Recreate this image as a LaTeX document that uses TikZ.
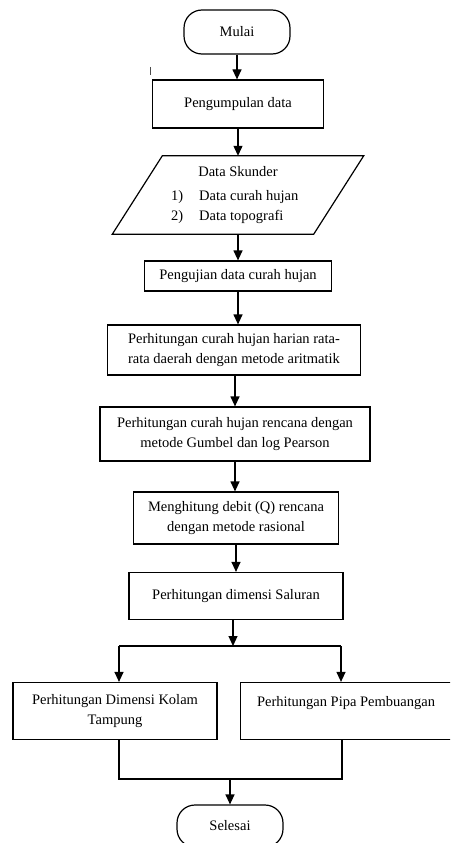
\documentclass[tikz,border=0pt]{standalone}
\usepackage{fontspec}
\setmainfont{Liberation Serif}
\usetikzlibrary{arrows.meta}

\begin{document}
\begin{tikzpicture}[x=1pt, y=-1pt,
	txt/.style={font=\fontsize{14.5}{19.5}\selectfont, inner sep=0pt},
	box/.style={draw, line width=1.2pt, inner sep=2pt, align=center, font=\fontsize{14.5}{19.5}\selectfont},
	term/.style={box, rounded corners=18pt},
	ln/.style={line width=1.2pt},
	arr/.style={line width=1.2pt, -{Triangle[width=9pt,length=10pt]}}]
\useasboundingbox (0,0) rectangle (450,843);
\clip (0,0) rectangle (450,843);


\node[term, minimum width=106pt, minimum height=44pt] (mulai) at (237,32) {Mulai};

\node[box, minimum width=171pt, minimum height=48pt] (kumpul) at (238,104) {Pengumpulan data};

%\node[txt] at (150,71) {'};
\draw[line width=1pt, black!70] (150,67) -- (150,75);


% data sekunder (jajaran genjang)
\node[minimum width=251pt, minimum height=78pt, inner sep=0pt] (data) at (238,195) {};
\draw[ln] ([xshift=50pt]data.north west) -- (data.north east) -- ([xshift=-50pt]data.south east) -- (data.south west) -- cycle;

\node[txt] (dtitle) at (238,172) {Data Skunder};
\node[txt, anchor=base west] (d1no) at (171,200) {1)};
\node[txt, anchor=base west] (d1) at (199,200) {Data curah hujan};
\node[txt, anchor=base west] (d2no) at (171,220) {2)};
\node[txt, anchor=base west] (d2) at (199,220) {Data topografi};


\node[box, minimum width=187pt, minimum height=30pt] (uji) at (238,276) {Pengujian data curah hujan};

\node[box, minimum width=253pt, minimum height=50pt] (harian) at (234,350) {Perhitungan curah hujan harian rata-\\rata daerah dengan metode aritmatik};

\node[box, minimum width=270pt, minimum height=54pt] (rencana) at (235,434) {Perhitungan curah hujan rencana dengan\\metode Gumbel dan log Pearson};

\node[box, minimum width=205pt, minimum height=52pt] (debit) at (236,518) {Menghitung debit (Q) rencana\\dengan metode rasional};

\node[box, minimum width=214pt, minimum height=47pt] (saluran) at (236,596) {Perhitungan dimensi Saluran};

\node[box, minimum width=204pt, minimum height=57pt] (kolam) at (115,711) {Perhitungan Dimensi Kolam\\Tampung};
\node[box, minimum width=211pt, minimum height=57pt] (pipa) at (346,711) {Perhitungan Pipa Pembuangan\\ \mbox{}};

\node[term, minimum width=106pt, minimum height=42pt] (selesai) at (230,826) {Selesai};


\draw[arr] (mulai.south) -- (mulai.south |- kumpul.north);
\draw[arr] (kumpul.south) -- (kumpul.south |- data.north);
\draw[arr] (data.south) -- (data.south |- uji.north);
\draw[arr] (uji.south) -- (uji.south |- harian.north);
\draw[arr] (rencana.north |- harian.south) -- (rencana.north);
\draw[arr] (rencana.south) -- (rencana.south |- debit.north);
\draw[arr] (debit.south) -- (debit.south |- saluran.north);

% cabang ke kolam dan pipa
\coordinate (split) at (233,646);
\coordinate (splitl) at (119,646);
\coordinate (splitr) at (341,646);
\draw[arr] (saluran.south -| split) -- (split);
\draw[ln] (splitl) -- (splitr);
\draw[arr] (splitl) -- (splitl |- kolam.north);
\draw[arr] (splitr) -- (splitr |- pipa.north);

\coordinate (joinl) at (119,779);
\coordinate (joinr) at (342,779);
\coordinate (join) at (230,779);
\draw[ln] (kolam.south -| joinl) -- (joinl) -- (joinr) -- (pipa.south -| joinr);
\draw[arr] (join) -- (selesai.north);

\end{tikzpicture}
\end{document}
